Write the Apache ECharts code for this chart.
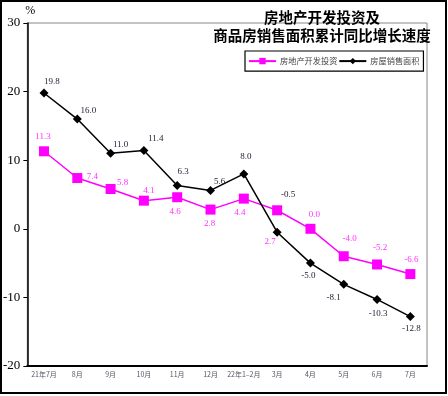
<!DOCTYPE html>
<html>
<head>
<meta charset="utf-8">
<script src="https://cdn.jsdelivr.net/npm/echarts@6/dist/echarts.min.js"></script>
<style>
  html, body { margin: 0; padding: 0; background: #fff; }
  #main { width: 448px; height: 396px; }
</style>
</head>
<body>
<div id="main"></div>
<script>
// 月份
var months = ['21年7月', '8月', '9月', '10月', '11月', '12月', '22年1–2月', '3月', '4月', '5月', '6月', '7月'];
// 房地产开发投资 累计同比 %
var investData = [11.3, 7.4, 5.8, 4.1, 4.6, 2.8, 4.4, 2.7, 0.0, -4.0, -5.2, -6.6];
// 房屋销售面积 累计同比 %
var salesData = [19.8, 16.0, 11.0, 11.4, 6.3, 5.6, 8.0, -0.5, -5.0, -8.1, -10.3, -12.8];
var yTicks = [-20, -10, 0, 10, 20, 30];

// 数据标签偏移 (px)
var investLabelOffset = [[-1, -15], [15, -1], [12, -6], [5, -10], [-2, 14], [-1, 14], [-4, 14], [-7, 31], [4, -14], [6, -18], [3, -17], [1, -14]];
var salesLabelOffset = [[8, -11], [11, -8], [10, -9], [12, -12], [6, -14], [9, -9], [2, -17], [11, -38], [-2, 13], [-10, 13], [1, 14], [1, 12]];

function withLabels(values, offsets) {
    return values.map(function (v, i) {
        return { value: v, label: { offset: offsets[i] } };
    });
}

var serif = '"Liberation Serif", "DejaVu Serif", serif';
var cjk = '"Noto Sans CJK SC", sans-serif';

var chart = echarts.init(document.getElementById('main'));
chart.setOption({
    animation: false,
    backgroundColor: '#fff',
    title: {
        text: '房地产开发投资及\n商品房销售面积累计同比增长速度',
        left: 317,
        top: 3,
        textAlign: 'center',
        textStyle: {
            fontFamily: cjk,
            fontSize: 14.5,
            fontWeight: 'bold',
            lineHeight: 18,
            color: '#000'
        }
    },
    legend: {
        left: 245,
        top: 51,
        orient: 'horizontal',
        padding: [6, 4, 6, 3],
        itemGap: 1,
        itemWidth: 27,
        itemHeight: 8,
        borderColor: '#000',
        borderWidth: 1.2,
        textStyle: { fontFamily: cjk, fontSize: 8.2, color: '#444', padding: [0, 0, 0, -1] },
        data: ['房地产开发投资', '房屋销售面积']
    },
    grid: {
        left: 27,
        top: 23,
        right: 21,
        bottom: 30,
        show: true,
        borderColor: '#888',
        borderWidth: 1
    },
    xAxis: {
        type: 'category',
        data: months,
        boundaryGap: true,
        axisLine: { onZero: false, lineStyle: { color: '#000', width: 2 } },
        axisTick: { inside: true, length: 3, lineStyle: { color: '#000' } },
        axisLabel: { interval: 0, margin: 5, fontFamily: cjk, fontSize: 7, color: '#556' },
        splitLine: { show: false }
    },
    yAxis: {
        type: 'value',
        min: yTicks[0],
        max: yTicks[yTicks.length - 1],
        interval: 10,
        name: '%',
        nameGap: 2,
        nameTextStyle: { fontFamily: serif, fontSize: 12, color: '#000', align: 'left', padding: [0, 0, 0, -2] },
        axisLine: { show: true, lineStyle: { color: '#000', width: 1.5 } },
        axisTick: { show: true, length: 4, lineStyle: { color: '#000' } },
        axisLabel: { margin: 7, fontFamily: serif, fontSize: 13, color: '#000' },
        splitLine: { show: false }
    },
    series: [
        {
            name: '房地产开发投资',
            type: 'line',
            data: withLabels(investData, investLabelOffset),
            symbol: 'rect',
            symbolSize: 10,
            itemStyle: { color: '#ff00ff' },
            lineStyle: { color: '#ff00ff', width: 1.5 },
            label: {
                show: true,
                position: 'inside',
                formatter: function (p) { return p.value.toFixed(1); },
                fontFamily: serif,
                fontSize: 9,
                color: '#ff33ff'
            },
            z: 2
        },
        {
            name: '房屋销售面积',
            type: 'line',
            data: withLabels(salesData, salesLabelOffset),
            symbol: 'diamond',
            symbolSize: 9,
            itemStyle: { color: '#000' },
            lineStyle: { color: '#000', width: 1.5 },
            label: {
                show: true,
                position: 'inside',
                formatter: function (p) { return p.value.toFixed(1); },
                fontFamily: serif,
                fontSize: 9,
                color: '#222238'
            },
            z: 3
        }
    ],
    graphic: [
        {
            type: 'rect',
            shape: { x: 1, y: 1, width: 445, height: 392 },
            style: { fill: 'none', stroke: '#000', lineWidth: 2 },
            silent: true
        }
    ]
});
</script>
</body>
</html>
